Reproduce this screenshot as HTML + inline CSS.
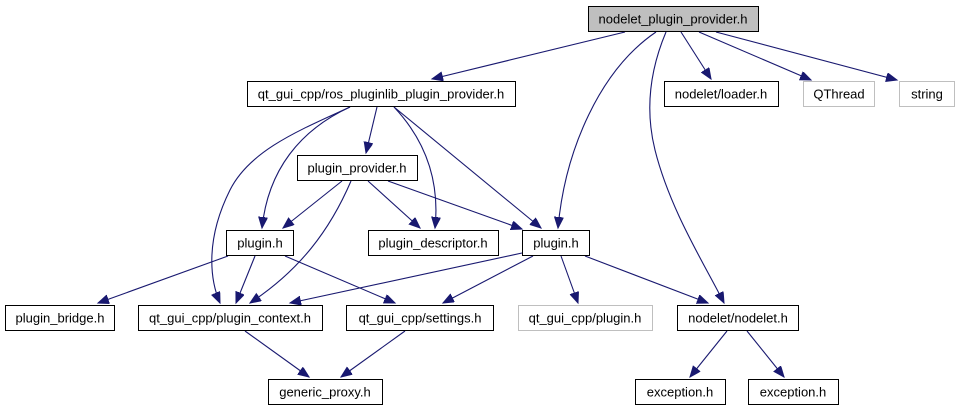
<!DOCTYPE html>
<html><head><style>
body{margin:0;background:#fff}
svg text{font-family:"Liberation Sans",sans-serif;font-size:13px;text-anchor:middle}
</style></head><body>
<svg width="959" height="411" viewBox="0 0 959 411" xmlns="http://www.w3.org/2000/svg">
<defs><marker id="a" markerUnits="userSpaceOnUse" markerWidth="13" markerHeight="10" refX="11" refY="4.5" orient="auto"><path d="M0,0 L11,4.5 L0,9 Z" fill="#191970" stroke="#191970"/></marker></defs>
<g fill="none" stroke="#191970" stroke-width="1.1" marker-end="url(#a)">
<path d="M625,32 L432,79"/>
<path d="M656,32 C600,70 565,150 558,228"/>
<path d="M666,32 C650,70 645,110 655,150 C670,210 705,265 724,303"/>
<path d="M681,32 L711,79"/>
<path d="M699,32 L811,80"/>
<path d="M716,32 L897,80"/>
<path d="M377,107 L366,153"/>
<path d="M350,107 C300,130 268,170 262,228"/>
<path d="M350,107 C300,130 250,150 230,190 C205,240 210,280 220,303"/>
<path d="M394,107 C425,140 440,180 435,228"/>
<path d="M394,107 L541,228"/>
<path d="M342,181 L283,228"/>
<path d="M351,181 C330,230 300,270 250,303"/>
<path d="M368,181 L420,228"/>
<path d="M388,181 L522,229"/>
<path d="M228,256 L98,303"/>
<path d="M255,256 L236,303"/>
<path d="M285,256 L395,303"/>
<path d="M522,253 L290,303"/>
<path d="M533,256 L443,303"/>
<path d="M561,256 L578,303"/>
<path d="M585,256 L708,303"/>
<path d="M245,331 L309,377"/>
<path d="M405,331 L341,377"/>
<path d="M727,331 L690,377"/>
<path d="M747,331 L784,377"/>
</g>
<g stroke-width="1">
<rect x="588.5" y="6.5" width="170" height="25" fill="#bfbfbf" stroke="#000"/>
<rect x="247.5" y="81.5" width="268" height="25" fill="#fff" stroke="#000"/>
<rect x="664.5" y="81.5" width="114" height="25" fill="#fff" stroke="#000"/>
<rect x="803.5" y="81.5" width="71" height="25" fill="#fff" stroke="#bfbfbf"/>
<rect x="899.5" y="81.5" width="55" height="25" fill="#fff" stroke="#bfbfbf"/>
<rect x="297.5" y="155.5" width="120" height="25" fill="#fff" stroke="#000"/>
<rect x="226.5" y="230.5" width="67" height="25" fill="#fff" stroke="#000"/>
<rect x="368.5" y="230.5" width="130" height="25" fill="#fff" stroke="#000"/>
<rect x="522.5" y="230.5" width="67" height="25" fill="#fff" stroke="#000"/>
<rect x="5.5" y="305.5" width="109" height="25" fill="#fff" stroke="#000"/>
<rect x="138.5" y="305.5" width="184" height="25" fill="#fff" stroke="#000"/>
<rect x="346.5" y="305.5" width="147" height="25" fill="#fff" stroke="#000"/>
<rect x="518.5" y="305.5" width="134" height="25" fill="#fff" stroke="#bfbfbf"/>
<rect x="677.5" y="305.5" width="121" height="25" fill="#fff" stroke="#000"/>
<rect x="268.5" y="379.5" width="114" height="25" fill="#fff" stroke="#000"/>
<rect x="635.5" y="379.5" width="90" height="25" fill="#fff" stroke="#000"/>
<rect x="748.5" y="379.5" width="90" height="25" fill="#fff" stroke="#000"/>
</g>
<g fill="#000">
<text x="673" y="23.5">nodelet_plugin_provider.h</text>
<text x="381" y="98.5">qt_gui_cpp/ros_pluginlib_plugin_provider.h</text>
<text x="721" y="98.5">nodelet/loader.h</text>
<text x="839" y="98.5">QThread</text>
<text x="927" y="98.5">string</text>
<text x="357" y="172.5">plugin_provider.h</text>
<text x="260" y="247.5">plugin.h</text>
<text x="433" y="247.5">plugin_descriptor.h</text>
<text x="556" y="247.5">plugin.h</text>
<text x="60" y="322.5">plugin_bridge.h</text>
<text x="230" y="322.5">qt_gui_cpp/plugin_context.h</text>
<text x="420" y="322.5">qt_gui_cpp/settings.h</text>
<text x="585" y="322.5">qt_gui_cpp/plugin.h</text>
<text x="738" y="322.5">nodelet/nodelet.h</text>
<text x="325" y="396.5">generic_proxy.h</text>
<text x="680" y="396.5">exception.h</text>
<text x="793" y="396.5">exception.h</text>
</g>
</svg>
</body></html>
